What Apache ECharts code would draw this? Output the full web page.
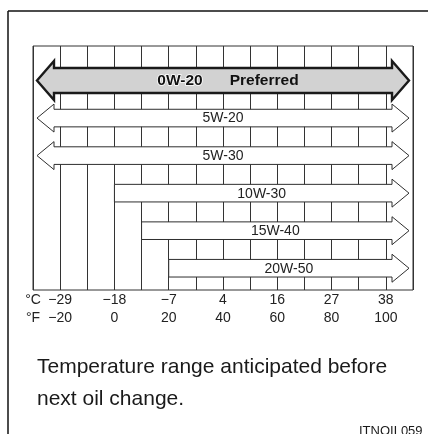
<!DOCTYPE html>
<html>
<head>
<meta charset="utf-8">
<title>Engine oil viscosity vs. temperature</title>
<script src="https://cdn.jsdelivr.net/npm/echarts@6/dist/echarts.min.js"></script>
<style>
  html, body { margin: 0; padding: 0; background: #fff; }
  #chart { width: 428px; height: 434px; }
</style>
</head>
<body>
<div id="chart"></div>
<script>
// Oil grades, top to bottom
const grades = ['0W-20', '5W-20', '5W-30', '10W-30', '15W-40', '20W-50'];
// Lowest ambient temperature (°F) for each grade; null = no lower limit
const lowF = [null, null, null, 0, 10, 20];
// Highest ambient temperature (°F); null = no upper limit
const highF = [null, null, null, null, null, null];
// Recommended grade
const preferredGrade = '0W-20';
const preferredNote = 'Preferred';

// Temperature scale (°F) and its paired °C labels
const axisMinF = -30;
const axisMaxF = 110;
const stepF = 10;
const fahrenheitTicks = [-20, 0, 20, 40, 60, 80, 100];
const celsiusTicks = ['\u221229', '\u221218', '\u22127', '4', '16', '27', '38'];

const caption = ['Temperature range anticipated before', 'next oil change.'];
const figureCode = 'ITNOIL059';

const FONT = '"Liberation Sans", Arial, Helvetica, sans-serif';
const fmtNum = v => (v < 0 ? '\u2212' + Math.abs(v) : String(v));

const rows = grades.map((g, i) => [
  i,
  lowF[i] == null ? axisMinF : lowF[i],
  highF[i] == null ? axisMaxF : highF[i],
  lowF[i] == null ? 1 : 0,
  highF[i] == null ? 1 : 0
]);

const chart = echarts.init(document.getElementById('chart'), null, { renderer: 'canvas' });

function renderArrow(params, api) {
  const idx = params.dataIndex;
  const row = api.value(0);
  const lo = api.value(1), hi = api.value(2);
  const openLo = api.value(3) === 1, openHi = api.value(4) === 1;
  const pLo = api.coord([lo, row]);
  const pHi = api.coord([hi, row]);
  const y = pLo[1];
  const isPref = grades[idx] === preferredGrade;

  const inset = 4;
  const head = 17;
  const bodyH = isPref ? 12.5 : 8.8;
  const headH = isPref ? 19.5 : 14;

  const x0 = openLo ? pLo[0] + inset : pLo[0];
  const x1 = openHi ? pHi[0] - inset : pHi[0];

  const pts = [];
  if (openLo) {
    pts.push([x0, y], [x0 + head, y - headH], [x0 + head, y - bodyH]);
  } else {
    pts.push([x0, y - bodyH]);
  }
  if (openHi) {
    pts.push([x1 - head, y - bodyH], [x1 - head, y - headH], [x1, y],
             [x1 - head, y + headH], [x1 - head, y + bodyH]);
  } else {
    pts.push([x1, y - bodyH], [x1, y + bodyH]);
  }
  if (openLo) {
    pts.push([x0 + head, y + bodyH], [x0 + head, y + headH]);
  } else {
    pts.push([x0, y + bodyH]);
  }

  const cx = (x0 + x1) / 2;
  const label = isPref
    ? {
        type: 'text',
        style: {
          text: '{a|' + grades[idx] + '}{b|' + preferredNote + '}',
          x: cx, y: y,
          align: 'center', verticalAlign: 'middle',
          rich: {
            a: { font: 'bold 15.5px ' + FONT, fill: '#111', stroke: '#fff', lineWidth: 1.5, padding: [0, 0, 0, 10] },
            b: { font: 'bold 15.5px ' + FONT, fill: '#111', padding: [0, 0, 0, 27] }
          }
        }
      }
    : {
        type: 'text',
        style: {
          text: grades[idx],
          x: cx, y: y + 0.5,
          align: 'center', verticalAlign: 'middle',
          font: '14px ' + FONT,
          fill: '#222'
        }
      };

  return {
    type: 'group',
    children: [
      {
        type: 'polygon',
        shape: { points: pts },
        style: {
          fill: isPref ? '#d2d2d2' : '#ffffff',
          stroke: isPref ? '#1a1a1a' : '#2e2e2e',
          lineWidth: isPref ? 2.4 : 1,
          lineJoin: 'miter'
        }
      },
      label
    ]
  };
}

chart.setOption({
  backgroundColor: '#ffffff',
  animation: false,
  grid: {
    left: 33, right: 15, top: 46, bottom: 144,
    show: true, borderColor: '#333', borderWidth: 1, backgroundColor: 'transparent'
  },
  xAxis: {
    type: 'value',
    min: axisMinF, max: axisMaxF, interval: stepF,
    axisLine: { show: false },
    axisTick: { show: false },
    splitLine: { show: true, lineStyle: { color: '#333', width: 1 } },
    axisLabel: {
      margin: 1,
      showMinLabel: true, showMaxLabel: true,
      fontFamily: FONT, fontSize: 14, color: '#222', lineHeight: 18,
      formatter: v => {
        if (v === axisMinF) return '\u00b0C\n\u00b0F';
        const k = fahrenheitTicks.indexOf(v);
        return k < 0 ? '' : celsiusTicks[k] + '\n' + fmtNum(v);
      }
    }
  },
  yAxis: {
    type: 'value',
    inverse: true,
    min: -0.92, max: 5.58,
    show: false,
    splitLine: { show: false }
  },
  series: [{
    type: 'custom',
    renderItem: renderArrow,
    data: rows,
    encode: { x: [1, 2], y: 0 },
    clip: false
  }],
  graphic: [
    { type: 'line', shape: { x1: 8, y1: 11, x2: 428, y2: 11 }, style: { stroke: '#111', lineWidth: 1.5 } },
    { type: 'line', shape: { x1: 8, y1: 11, x2: 8, y2: 434 }, style: { stroke: '#111', lineWidth: 1.5 } },
    {
      type: 'text', left: 37, top: 357,
      style: { text: caption[0], font: '21px ' + FONT, fill: '#1a1a1a' }
    },
    {
      type: 'text', left: 37, top: 389,
      style: { text: caption[1], font: '21px ' + FONT, fill: '#1a1a1a' }
    },
    {
      type: 'text', left: 359, top: 425,
      style: { text: figureCode, font: '13px ' + FONT, fill: '#1a1a1a' }
    }
  ]
});
</script>
</body>
</html>
